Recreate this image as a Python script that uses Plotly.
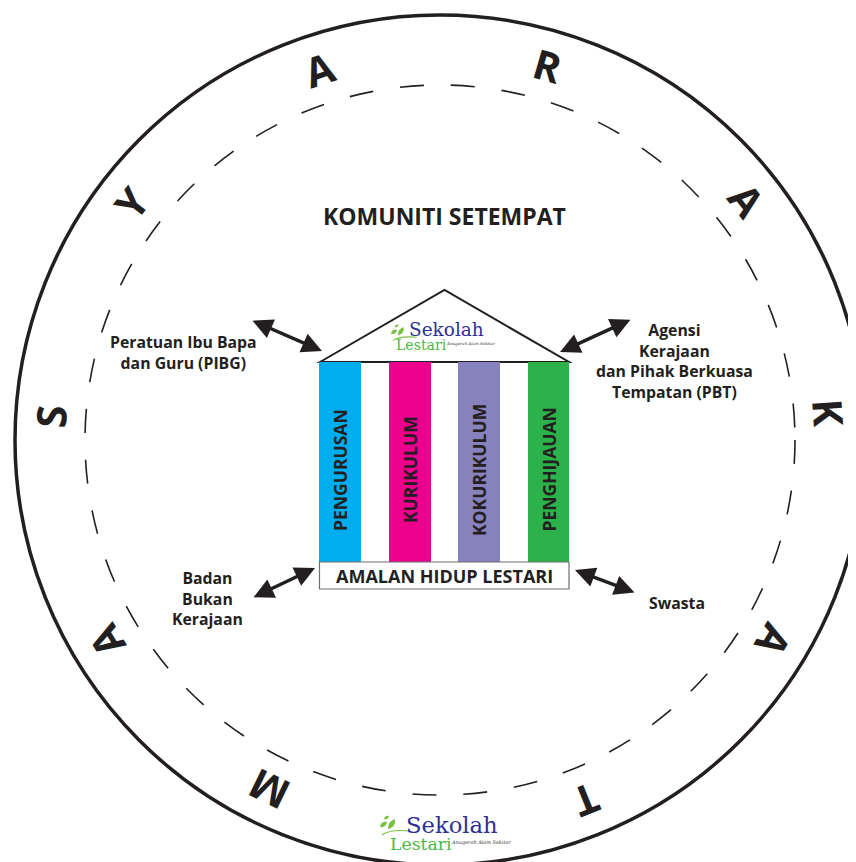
import math
import plotly.graph_objects as go

# ---------------- data ----------------
ring_letters = ["M", "A", "S", "Y", "A", "R", "A", "K", "A", "T"]
ring_angles = [-116, -149, 176.5, 142.5, 108, 74, 38, 4, -31, -68]

title_text = "KOMUNITI SETEMPAT"
pillar_labels = ["PENGURUSAN", "KURIKULUM", "KOKURIKULUM", "PENGHIJAUAN"]
base_label = "AMALAN HIDUP LESTARI"
partner_labels = [
    "Peratuan Ibu Bapa<br>dan Guru (PIBG)",
    "Agensi<br>Kerajaan<br>dan Pihak Berkuasa<br>Tempatan (PBT)",
    "Badan<br>Bukan<br>Kerajaan",
    "Swasta",
]
logo_words = ["Sekolah", "Lestari", "Anugerah Alam Sekitar"]

# ---------------- layout constants ----------------
W, H = 856, 862
OFF = 8  # default page body margin
CX, CY = 440, 440
R_OUT, R_DASH, R_TXT = 425, 355, 390
INK = "#231F20"
pillar_colors = ["#00AEEF", "#EC008C", "#8781BD", "#2BB24B"]
pillar_x = [(319, 361), (389, 431), (458, 500), (528, 569)]
PILLAR_TOP, PILLAR_BOT = 362, 562
BASE_BOT = 589
partner_pos = [(183, 352), (674, 361), (207, 598), (677, 603)]
arrows = [  # (head x, head y, tail x, tail y)
    (322, 351, 251, 320),
    (560, 352, 632, 319),
    (315, 568, 252, 598),
    (575, 570, 636, 593),
]

fig = go.Figure()
fig.add_trace(go.Scatter(x=[OFF, W], y=[OFF, H], mode="markers",
                         marker=dict(opacity=0), hoverinfo="skip", showlegend=False))

shapes = []
# outer circle
shapes.append(dict(type="circle", xref="x", yref="y",
                   x0=CX - R_OUT, x1=CX + R_OUT, y0=CY - R_OUT, y1=CY + R_OUT,
                   line=dict(color=INK, width=3.5)))
# dashed circle
shapes.append(dict(type="circle", xref="x", yref="y",
                   x0=CX - R_DASH, x1=CX + R_DASH, y0=CY - R_DASH, y1=CY + R_DASH,
                   line=dict(color=INK, width=1.6, dash="24px,27px")))
# roof
shapes.append(dict(type="path", xref="x", yref="y",
                   path=f"M 320 {PILLAR_TOP} L 444.5 290 L 569 {PILLAR_TOP} Z",
                   fillcolor="white", line=dict(color=INK, width=2)))
# pillars
for (x0, x1), col in zip(pillar_x, pillar_colors):
    shapes.append(dict(type="rect", xref="x", yref="y", x0=x0, x1=x1,
                       y0=PILLAR_TOP, y1=PILLAR_BOT, fillcolor=col, line=dict(width=0)))
# base
shapes.append(dict(type="rect", xref="x", yref="y", x0=319.5, x1=569,
                   y0=PILLAR_BOT, y1=BASE_BOT, fillcolor="white",
                   line=dict(color="#6D6E71", width=1.2)))


def leaves(x, y, s):
    """small leaves + stem for the logo, anchored at (x, y), scale s"""
    out = []
    g = "#7AC143"
    out.append(dict(type="path", xref="x", yref="y",
                    path=f"M {x} {y - 6*s} Q {x + 1*s} {y - 12*s} {x + 7*s} {y - 11*s} "
                         f"Q {x + 6*s} {y - 5*s} {x} {y - 6*s} Z",
                    fillcolor=g, line=dict(width=0)))
    out.append(dict(type="path", xref="x", yref="y",
                    path=f"M {x + 8*s} {y - 4*s} Q {x + 8*s} {y - 12*s} {x + 15*s} {y - 14*s} "
                         f"Q {x + 16*s} {y - 6*s} {x + 8*s} {y - 4*s} Z",
                    fillcolor=g, line=dict(width=0)))
    out.append(dict(type="path", xref="x", yref="y",
                    path=f"M {x + 4*s} {y - 14*s} Q {x + 5*s} {y - 18*s} {x + 9*s} {y - 17*s} "
                         f"Q {x + 8*s} {y - 13*s} {x + 4*s} {y - 14*s} Z",
                    fillcolor=g, line=dict(width=0)))
    out.append(dict(type="path", xref="x", yref="y",
                    path=f"M {x + 2*s} {y + 2*s} Q {x + 10*s} {y - 4*s} {x + 30*s} {y - 2*s}",
                    line=dict(color=g, width=1.2 * s)))
    return out


shapes += leaves(391, 339, 0.85)
shapes += leaves(380, 833, 1.0)

ann = []
# ring letters
for ch, a in zip(ring_letters, ring_angles):
    t = math.radians(a)
    x = CX + R_TXT * math.cos(t)
    y = CY - R_TXT * math.sin(t)
    rot = 90 - a
    if rot > 180:
        rot -= 360
    ann.append(dict(x=x, y=y, text=ch, showarrow=False, textangle=rot,
                    xanchor="center", yanchor="middle",
                    font=dict(family="Open Sans", size=41, color=INK, weight="bold")))

# title
ann.append(dict(x=444, y=216, text=title_text, showarrow=False,
                font=dict(family="Open Sans", size=23, color=INK, weight="bold")))
# pillar labels
for (x0, x1), lab in zip(pillar_x, pillar_labels):
    ann.append(dict(x=(x0 + x1) / 2, y=470, text=lab, showarrow=False, textangle=-90,
                    xanchor="center", yanchor="middle",
                    font=dict(family="Open Sans", size=17.5, color=INK, weight="bold")))
# base label
ann.append(dict(x=444.5, y=576, text=base_label, showarrow=False,
                font=dict(family="Open Sans", size=18, color=INK, weight="bold")))
# partner labels
for (x, y), lab in zip(partner_pos, partner_labels):
    ann.append(dict(x=x, y=y, text=lab, showarrow=False, align="center",
                    xanchor="center", yanchor="middle",
                    font=dict(family="Open Sans", size=15.8, color=INK, weight="bold")))
# arrows
for hx, hy, tx, ty in arrows:
    ann.append(dict(x=hx, y=hy, ax=tx, ay=ty, xref="x", yref="y", axref="x", ayref="y",
                    text="", showarrow=True, arrowhead=2, startarrowhead=2,
                    arrowside="end+start", arrowwidth=3.5, arrowsize=1.15,
                    startarrowsize=1.15, arrowcolor=INK))


def logo(x, y, s):
    return [
        dict(x=x, y=y, text=logo_words[0], showarrow=False, xanchor="left", yanchor="middle",
             font=dict(family="DejaVu Serif", size=21 * s, color="#2E3192")),
        dict(x=x - 15 * s, y=y + 18 * s, text=logo_words[1], showarrow=False,
             xanchor="left", yanchor="middle",
             font=dict(family="DejaVu Serif", size=16 * s, color="#4CB848")),
        dict(x=x + 42 * s, y=y + 16 * s, text="<i>" + logo_words[2] + "</i>", showarrow=False,
             xanchor="left", yanchor="middle",
             font=dict(family="DejaVu Serif", size=4.6 * s, color="#333333")),
    ]


ann += logo(407, 329, 0.88)
ann += logo(404, 825, 1.08)

fig.update_layout(
    width=W - OFF, height=H - OFF, margin=dict(l=0, r=0, t=0, b=0),
    paper_bgcolor="white", plot_bgcolor="white",
    xaxis=dict(range=[OFF, W], visible=False, fixedrange=True),
    yaxis=dict(range=[H, OFF], visible=False, fixedrange=True),
    shapes=shapes, annotations=ann, showlegend=False,
)
fig.write_html("out.html")
